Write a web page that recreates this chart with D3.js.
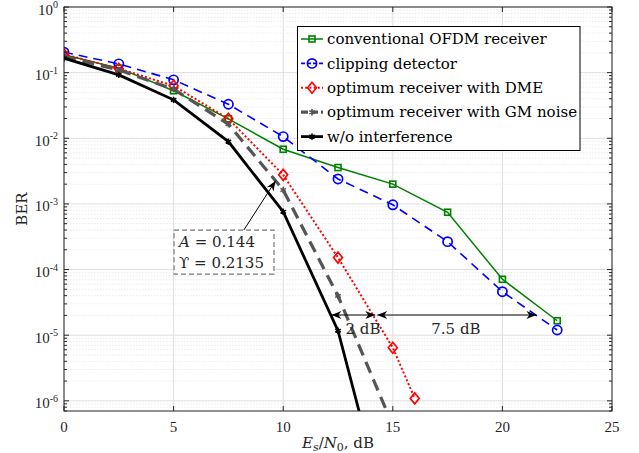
<!DOCTYPE html>
<html>
<head>
<meta charset="utf-8">
<script src="https://cdn.jsdelivr.net/npm/d3@7"></script>
<style>
  body { margin: 0; background: #fff; }
  svg { display: block; }
</style>
</head>
<body>
<div id="graph"></div>
<script>
// Es/N0 values (dB)
var xs = [0, 2.5, 5, 7.5, 10, 12.5, 15, 17.5, 20, 22.5];
var conventional = [0.187, 0.117, 0.053, 0.0198, 0.0068, 0.00358, 0.0020, 0.000747, 7.1e-5, 1.66e-5];
var clipping = [0.205, 0.136, 0.0777, 0.033, 0.0106, 0.0024, 0.00097, 0.000266, 4.6e-5, 1.2e-5];
var dmeX = [0, 2.5, 5, 7.5, 10, 12.5, 15, 16];
var dme = [0.19, 0.115, 0.063, 0.0198, 0.00277, 0.000152, 6.45e-6, 1.09e-6];
var gmX = [0, 2.5, 5, 7.5, 10, 12.5, 15];
var gm = [0.175, 0.11, 0.056, 0.0164, 0.00163, 3.96e-5, 4.2e-7];
var noIntX = [0, 2.5, 5, 7.5, 10, 12.5, 15];
var noInt = [0.166, 0.0925, 0.0385, 0.0089, 0.00076, 1.17e-5, 7.6e-9];

var legendNames = ["conventional OFDM receiver", "clipping detector", "optimum receiver with DME",
  "optimum receiver with GM noise", "w/o interference"];
var xTicks = [0, 5, 10, 15, 20, 25];
var yExp = [0, -1, -2, -3, -4, -5, -6];

var width = 639, height = 453;
var margin = {left: 64, right: 27, top: 7, bottom: 42};

var x = d3.scaleLinear().domain([0, 25]).range([margin.left, width - margin.right]);
var y = d3.scaleLog().domain([7e-7, 1]).range([height - margin.bottom, margin.top]);

var series = [
  {name: legendNames[0], xv: xs, yv: conventional, color: "#008000", width: 1.5, dash: null, marker: "square"},
  {name: legendNames[1], xv: xs, yv: clipping, color: "#0000ff", width: 1.6, dash: "9,6", marker: "circle"},
  {name: legendNames[2], xv: dmeX, yv: dme, color: "#ff0000", width: 2, dash: "2,2.2", marker: "diamond"},
  {name: legendNames[3], xv: gmX, yv: gm, color: "#555555", width: 3.2, dash: "12,7", marker: "star"},
  {name: legendNames[4], xv: noIntX, yv: noInt, color: "#000000", width: 2.8, dash: null, marker: "star"}
];

var svg = d3.create("svg").attr("width", width).attr("height", height);

var defs = svg.append("defs");
defs.append("clipPath").attr("id", "plotclip")
  .append("rect")
    .attr("x", x(0)).attr("y", y(1))
    .attr("width", x(25) - x(0)).attr("height", y(7e-7) - y(1));
defs.append("marker")
    .attr("id", "head")
    .attr("viewBox", "-11 -5 12 10")
    .attr("refX", 0).attr("refY", 0)
    .attr("markerWidth", 12).attr("markerHeight", 10)
    .attr("markerUnits", "userSpaceOnUse")
    .attr("orient", "auto-start-reverse")
  .append("path")
    .attr("d", "M0,0L-10,-4L-7,0L-10,4Z")
    .attr("fill", "#000");

// grid
var minor = [];
yExp.forEach(function(e) {
  for (var k = 2; k <= 9; k++) {
    var v = k * Math.pow(10, e - 1);
    if (v >= 7e-7 && v < 1) minor.push(v);
  }
});
svg.append("g")
    .attr("stroke", "#e6e6e6").attr("stroke-width", 0.8).attr("stroke-dasharray", "1.5,1.5")
  .selectAll("line").data(minor).join("line")
    .attr("x1", x(0)).attr("x2", x(25))
    .attr("y1", d => y(d)).attr("y2", d => y(d));
svg.append("g")
    .attr("stroke", "#dedede").attr("stroke-width", 1)
  .selectAll("line").data(yExp.map(e => Math.pow(10, e))).join("line")
    .attr("x1", x(0)).attr("x2", x(25))
    .attr("y1", d => y(d)).attr("y2", d => y(d));
svg.append("g")
    .attr("stroke", "#dedede").attr("stroke-width", 1)
  .selectAll("line").data(xTicks).join("line")
    .attr("x1", d => x(d)).attr("x2", d => x(d))
    .attr("y1", y(1)).attr("y2", y(7e-7));

// curves
var plot = svg.append("g").attr("clip-path", "url(#plotclip)");
var line = d3.line().x(d => x(d[0])).y(d => y(d[1]));

function drawMarker(g, kind, color) {
  if (kind === "square") {
    g.append("rect").attr("x", -3).attr("y", -3).attr("width", 6).attr("height", 6)
      .attr("fill", "none").attr("stroke", color).attr("stroke-width", 1.6);
  } else if (kind === "circle") {
    g.append("circle").attr("r", 4.6)
      .attr("fill", "none").attr("stroke", color).attr("stroke-width", 1.7);
  } else if (kind === "diamond") {
    g.append("path").attr("d", "M0,-5.5L4.5,0L0,5.5L-4.5,0Z")
      .attr("fill", "none").attr("stroke", color).attr("stroke-width", 1.6);
  } else {
    g.append("path").attr("d", d3.symbol(d3.symbolAsterisk, 28)())
      .attr("fill", "none").attr("stroke", color).attr("stroke-width", 1.6);
  }
}

series.forEach(function(s) {
  var pts = s.xv.map((v, i) => [v, s.yv[i]]);
  plot.append("path")
      .attr("d", line(pts))
      .attr("fill", "none")
      .attr("stroke", s.color)
      .attr("stroke-width", s.width)
      .attr("stroke-dasharray", s.dash);
  plot.append("g").selectAll("g").data(pts).join("g")
      .attr("transform", d => `translate(${x(d[0])},${y(d[1])})`)
      .each(function() { drawMarker(d3.select(this), s.marker, s.color); });
});

// axes box and ticks
var axes = svg.append("g").attr("stroke", "#262626").attr("fill", "none");
axes.append("rect")
    .attr("x", x(0)).attr("y", y(1))
    .attr("width", x(25) - x(0)).attr("height", y(7e-7) - y(1))
    .attr("stroke-width", 1);
xTicks.forEach(function(t) {
  axes.append("line").attr("x1", x(t)).attr("x2", x(t)).attr("y1", y(7e-7)).attr("y2", y(7e-7) - 5);
  axes.append("line").attr("x1", x(t)).attr("x2", x(t)).attr("y1", y(1)).attr("y2", y(1) + 5);
});
yExp.forEach(function(e) {
  var v = Math.pow(10, e);
  axes.append("line").attr("x1", x(0)).attr("x2", x(0) + 5).attr("y1", y(v)).attr("y2", y(v));
  axes.append("line").attr("x1", x(25)).attr("x2", x(25) - 5).attr("y1", y(v)).attr("y2", y(v));
});
minor.forEach(function(v) {
  axes.append("line").attr("x1", x(0)).attr("x2", x(0) + 3).attr("y1", y(v)).attr("y2", y(v));
  axes.append("line").attr("x1", x(25)).attr("x2", x(25) - 3).attr("y1", y(v)).attr("y2", y(v));
});

// tick labels
var labels = svg.append("g")
    .attr("font-family", "'Liberation Serif', serif")
    .attr("fill", "#262626");
labels.selectAll("text.xt").data(xTicks).join("text")
    .attr("class", "xt")
    .attr("x", d => x(d)).attr("y", y(7e-7) + 21)
    .attr("text-anchor", "middle").attr("font-size", 15)
    .text(d => d);
yExp.forEach(function(e) {
  var t = labels.append("text")
      .attr("x", x(0) - 6).attr("y", y(Math.pow(10, e)) + 7.5)
      .attr("text-anchor", "end").attr("font-size", 15);
  t.append("tspan").text("10");
  t.append("tspan").attr("font-size", 10).attr("dy", -6.5)
      .text(e === 0 ? "0" : "-" + (-e));
});

// axis titles
var serif = "'DejaVu Serif', serif";
var xl = svg.append("text")
    .attr("x", (x(0) + x(25)) / 2).attr("y", height - 5)
    .attr("text-anchor", "middle").attr("font-family", serif).attr("font-size", 15)
    .attr("fill", "#262626");
xl.append("tspan").attr("font-style", "italic").text("E");
xl.append("tspan").attr("font-style", "italic").attr("font-size", 11).attr("dy", 3).text("s");
xl.append("tspan").attr("dy", -3).text("/");
xl.append("tspan").attr("font-style", "italic").text("N");
xl.append("tspan").attr("font-size", 11).attr("dy", 3).text("0");
xl.append("tspan").attr("dy", -3).text(", dB");

svg.append("text")
    .attr("transform", `translate(27,${(y(1) + y(7e-7)) / 2}) rotate(-90)`)
    .attr("text-anchor", "middle").attr("font-family", serif).attr("font-size", 15)
    .attr("fill", "#262626")
    .text("BER");

// legend
var lg = svg.append("g");
lg.append("rect")
    .attr("x", 297.5).attr("y", 26.5).attr("width", 282.5).attr("height", 124)
    .attr("fill", "#fff").attr("stroke", "#000").attr("stroke-width", 1);
series.forEach(function(s, i) {
  var ry = 39 + i * 24.4;
  lg.append("line")
      .attr("x1", 301).attr("x2", 323).attr("y1", ry).attr("y2", ry)
      .attr("stroke", s.color).attr("stroke-width", s.width)
      .attr("stroke-dasharray", s.dash ? (s.marker === "circle" ? "4,2" : s.marker === "star" ? "7,3" : s.dash) : null);
  var m = lg.append("g").attr("transform", `translate(312,${ry})`);
  drawMarker(m, s.marker, s.color);
  lg.append("text")
      .attr("x", 327).attr("y", ry).attr("dy", "0.35em")
      .attr("font-family", serif).attr("font-size", 15).attr("fill", "#000")
      .text(s.name);
});

// annotations
var note = svg.append("g");
note.append("line")
    .attr("x1", x(8.2)).attr("y1", y(3.98e-4))
    .attr("x2", x(9.65)).attr("y2", y(2.24e-3))
    .attr("stroke", "#000").attr("stroke-width", 1)
    .attr("marker-end", "url(#head)");
note.append("rect")
    .attr("x", x(5.02)).attr("y", y(4.0e-4))
    .attr("width", x(9.58) - x(5.02)).attr("height", y(8.5e-5) - y(4.0e-4))
    .attr("fill", "#fff").attr("stroke", "#777").attr("stroke-width", 1.2)
    .attr("stroke-dasharray", "5,3");
var t1 = note.append("text")
    .attr("x", x(5.02) + 5).attr("y", y(4.0e-4) + 17)
    .attr("font-family", serif).attr("font-size", 15).attr("fill", "#262626");
t1.append("tspan").attr("font-style", "italic").text("A");
t1.append("tspan").text(" = 0.144");
note.append("text")
    .attr("x", x(5.02) + 5).attr("y", y(4.0e-4) + 38)
    .attr("font-family", serif).attr("font-size", 15).attr("fill", "#262626")
    .text("\u03D2 = 0.2135");

var gapY = 2.03e-5;
var gapX = [12.2, 14.2, 21.55];
note.append("line")
    .attr("x1", x(gapX[0])).attr("x2", x(gapX[1])).attr("y1", y(gapY)).attr("y2", y(gapY))
    .attr("stroke", "#000").attr("stroke-width", 1)
    .attr("marker-start", "url(#head)").attr("marker-end", "url(#head)");
note.append("line")
    .attr("x1", x(gapX[1]) + 2).attr("x2", x(gapX[2])).attr("y1", y(gapY)).attr("y2", y(gapY))
    .attr("stroke", "#000").attr("stroke-width", 1)
    .attr("marker-start", "url(#head)").attr("marker-end", "url(#head)");
note.append("text")
    .attr("x", x(13.64)).attr("y", y(gapY) + 19)
    .attr("text-anchor", "middle").attr("font-family", serif).attr("font-size", 15)
    .attr("fill", "#262626").text("2 dB");
note.append("text")
    .attr("x", x(17.88)).attr("y", y(gapY) + 19)
    .attr("text-anchor", "middle").attr("font-family", serif).attr("font-size", 15)
    .attr("fill", "#262626").text("7.5 dB");

d3.select("#graph").append(() => svg.node());
</script>
</body>
</html>
